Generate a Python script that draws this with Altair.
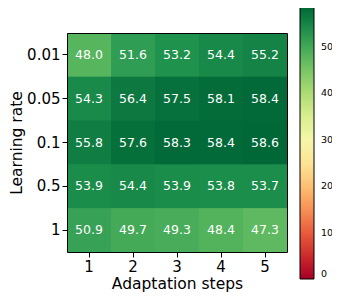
import altair as alt
import pandas as pd

learning_rates = ["0.01", "0.05", "0.1", "0.5", "1"]
steps = ["1", "2", "3", "4", "5"]
row_001 = [48.0, 51.6, 53.2, 54.4, 55.2]
row_005 = [54.3, 56.4, 57.5, 58.1, 58.4]
row_01 = [55.8, 57.6, 58.3, 58.4, 58.6]
row_05 = [53.9, 54.4, 53.9, 53.8, 53.7]
row_1 = [50.9, 49.7, 49.3, 48.4, 47.3]
colorbar_ticks = [0, 10, 20, 30, 40, 50]

rows = [row_001, row_005, row_01, row_05, row_1]
records = []
for lr, vals in zip(learning_rates, rows):
    for s, v in zip(steps, vals):
        records.append({"lr": lr, "step": s, "acc": v})
df = pd.DataFrame(records)
vmax = max(max(r) for r in rows)

FONT = "DejaVu Sans"

common = dict(labelFontSize=15, titleFontSize=15.5, titleFontWeight="normal",
              grid=False, tickColor="black", tickSize=5, labelColor="black",
              titleColor="black", labelPadding=2, titlePadding=2,
              labelFont=FONT, titleFont=FONT, domain=True, domainColor="black",
              domainWidth=1, zindex=1)

x_main = alt.X("step:O", sort=steps, title="Adaptation steps",
               axis=alt.Axis(labelAngle=0, orient="bottom", **common))
y_main = alt.Y("lr:O", sort=learning_rates, title="Learning rate",
               axis=alt.Axis(orient="left", **common))
frame = dict(labels=False, ticks=False, title=None, grid=False, domain=True,
             domainColor="black", domainWidth=1, zindex=1)
x_top = alt.X("step:O", sort=steps, axis=alt.Axis(orient="top", **frame))
y_right = alt.Y("lr:O", sort=learning_rates, axis=alt.Axis(orient="right", **frame))
x_none = alt.X("step:O", sort=steps, axis=None)
y_none = alt.Y("lr:O", sort=learning_rates, axis=None)

color_scale = alt.Scale(scheme="redyellowgreen", domain=[0, vmax])
color_enc = alt.Color(
    "acc:Q", scale=color_scale,
    legend=alt.Legend(type="gradient", orient="none", legendX=233, legendY=-26,
                      direction="vertical", gradientLength=272, gradientThickness=14,
                      values=colorbar_ticks, labelFontSize=9.5, labelOffset=7,
                      title=None, gradientStrokeColor="black", gradientStrokeWidth=1,
                      labelFont=FONT, labelColor="black", labelBaseline="middle",
                      labelOverlap=False))

base = alt.Chart(df)
# cells drawn twice so that the anti-aliasing seams between them vanish
rect = base.mark_rect().encode(x=x_main, y=y_main, color=color_enc)
rect2 = base.mark_rect().encode(x=x_top, y=y_right, color=color_enc)
text = base.mark_text(color="white", fontSize=12.5, font=FONT).encode(
    x=x_none, y=y_none, text=alt.Text("acc:Q", format=".1f"))

chart = (rect + rect2 + text).resolve_axis(x="independent", y="independent").properties(
    width=220, height=219,
    autosize=alt.AutoSizeParams(type="none"),
    padding={"left": 59, "top": 25, "right": 45, "bottom": 41},
).configure_view(strokeWidth=0, fill="#17884a").configure_scale(bandPaddingInner=0)

chart.save("out.html", embed_options={"renderer": "svg", "actions": False})
